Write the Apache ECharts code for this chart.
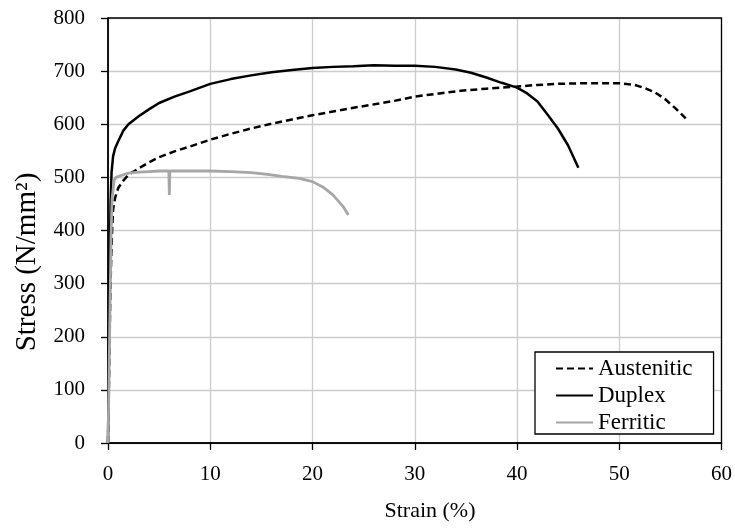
<!DOCTYPE html>
<html>
<head>
<meta charset="utf-8">
<script src="https://cdn.jsdelivr.net/npm/echarts@6/dist/echarts.min.js"></script>
<style>html,body{margin:0;padding:0;background:#fff}#c{width:735px;height:529px}</style>
</head>
<body>
<div id="c"></div>
<script>
var xTicks = [0, 10, 20, 30, 40, 50, 60];
var yTicks = [0, 100, 200, 300, 400, 500, 600, 700, 800];
var seriesNames = ['Austenitic', 'Duplex', 'Ferritic'];

var austeniticStrain = [0, 0.1, 0.2, 0.3, 0.4, 0.5, 0.7, 1.0, 1.5, 2.0, 3.0, 4.0, 5.0, 6.5, 8.0, 10.0, 12.0, 14.0, 16.0, 18.0, 20.0, 22.0, 24.0, 26.5, 28.0, 30.0, 32.0, 34.5, 37.0, 40.0, 42.0, 44.0, 46.0, 48.0, 50.0, 51.5, 52.5, 53.5, 54.5, 55.5, 56.5];
var austeniticStress = [0, 120, 250, 340, 400, 440, 462, 480, 494, 505, 517, 528, 538, 549, 558, 571, 582, 592, 601, 609, 617, 624, 631, 639, 644, 652, 657, 663, 667, 671, 674, 676, 677, 677, 677, 674, 668, 660, 647, 630, 611];

var duplexStrain = [0, 0.05, 0.15, 0.25, 0.35, 0.5, 0.7, 1.0, 1.5, 2.0, 3.0, 4.0, 5.0, 6.5, 8.0, 10.0, 12.0, 14.0, 16.0, 18.0, 20.0, 22.0, 24.0, 26.0, 28.0, 30.0, 32.0, 34.0, 35.5, 37.0, 38.5, 40.0, 41.0, 42.0, 43.0, 44.0, 45.0, 46.0];
var duplexStress = [0, 100, 300, 450, 510, 540, 555, 568, 588, 600, 615, 628, 640, 652, 662, 676, 685, 692, 698, 702, 706, 708, 709, 711, 710, 710, 708, 703, 697, 688, 678, 669, 658, 643, 618, 592, 560, 518];

var ferriticStrain = [0, 0.1, 0.2, 0.3, 0.4, 0.6, 0.8, 1.2, 2.0, 3.0, 4.0, 5.0, 5.95, 6.0, 6.05, 7.0, 8.0, 10.0, 12.0, 14.0, 15.8, 17.0, 18.7, 20.0, 21.0, 22.0, 23.0, 23.5];
var ferriticStress = [0, 120, 260, 390, 460, 495, 500, 503, 508, 510, 511, 512, 512, 467, 512, 512, 512, 512, 511, 509, 505, 502, 498, 492, 482, 467, 445, 429];

function pairs(xs, ys) { return xs.map(function (x, i) { return [x, ys[i]]; }); }

var chart = echarts.init(document.getElementById('c'), null, { renderer: 'canvas' });
var serif = '"Liberation Serif", "Times New Roman", serif';
chart.setOption({
  animation: false,
  backgroundColor: '#fff',
  textStyle: { fontFamily: serif, color: '#000' },
  grid: { left: 108, top: 18, width: 615, height: 425, show: true, borderColor: '#000', borderWidth: 1.3, backgroundColor: 'transparent', z: 1 },
  xAxis: {
    type: 'value', min: xTicks[0], max: xTicks[xTicks.length - 1], interval: 10,
    axisLine: { show: true, lineStyle: { color: '#000', width: 1.5 } },
    axisTick: { show: true, length: 7, lineStyle: { color: '#000', width: 1.3 } },
    axisLabel: { fontFamily: serif, fontSize: 21, color: '#000', margin: 21 },
    splitLine: { show: true, lineStyle: { color: '#cccccc', width: 1.3 } }
  },
  yAxis: {
    type: 'value', min: yTicks[0], max: yTicks[yTicks.length - 1], interval: 100,
    axisLine: { show: true, lineStyle: { color: '#000', width: 1.5 } },
    axisTick: { show: true, length: 7, lineStyle: { color: '#000', width: 1.3 } },
    axisLabel: { fontFamily: serif, fontSize: 21, color: '#000', margin: 23 },
    splitLine: { show: true, lineStyle: { color: '#cccccc', width: 1.3 } }
  },
  legend: {
    orient: 'vertical', left: 535, top: 352,
    data: seriesNames,
    backgroundColor: '#fff', borderColor: '#000', borderWidth: 1.3,
    padding: [5, 21, 0, 20],
    itemWidth: 37, itemHeight: 20, itemGap: 4,
    itemStyle: { opacity: 0 },
    textStyle: { fontFamily: serif, fontSize: 23, color: '#000', lineHeight: 20 }
  },
  graphic: [
    { type: 'text', x: 27, y: 262, rotation: Math.PI / 2,
      style: { text: 'Stress (N/mm²)', font: '29px ' + serif, fill: '#000', align: 'center', verticalAlign: 'middle' } },
    { type: 'text', x: 430, y: 511,
      style: { text: 'Strain (%)', font: '22px ' + serif, fill: '#000', align: 'center', verticalAlign: 'middle' } }
  ],
  series: [
    { name: seriesNames[0], type: 'line', data: pairs(austeniticStrain, austeniticStress), showSymbol: false, symbol: 'none',
      lineStyle: { color: '#000', width: 2.5, type: [7, 4] }, itemStyle: { color: '#000' }, z: 2 },
    { name: seriesNames[1], type: 'line', data: pairs(duplexStrain, duplexStress), showSymbol: false, symbol: 'none',
      lineStyle: { color: '#000', width: 2.5 }, itemStyle: { color: '#000' }, z: 3 },
    { name: seriesNames[2], type: 'line', data: pairs(ferriticStrain, ferriticStress), showSymbol: false, symbol: 'none',
      lineStyle: { color: '#a6a6a6', width: 2.8 }, itemStyle: { color: '#a6a6a6' }, z: 4 }
  ]
});
</script>
</body>
</html>
